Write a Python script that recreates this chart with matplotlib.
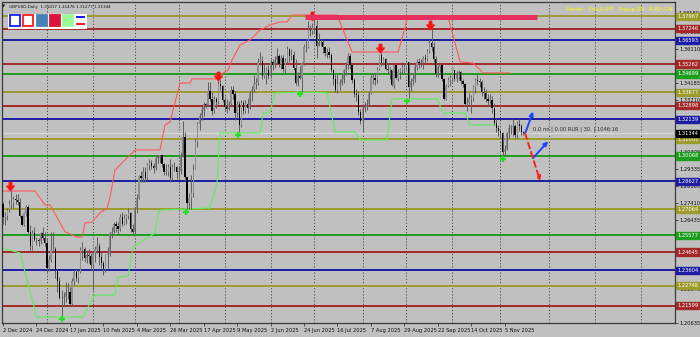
import matplotlib
matplotlib.use("Agg")
import matplotlib.pyplot as plt
from matplotlib.path import Path
from matplotlib.patches import Rectangle

_BG = "#c0c0c0"
_FRAME = "#3a3a3a"
_WICK = "#5e5e5e"
_BULL = "#8e8e8e"
_BEAR = "#000000"
_OLIVE, _DRED, _NAVY, _GREEN = "#9c9c2c", "#a42a2a", "#1c1ca4", "#1e9e1e"

TITLE = "GBPUSD,Daily  1.31417 1.31476 1.31277 1.31344"
ALERT = "Alerter:  Email OFF   Popup ON   PUSH ON"
INFO = "0.0 nn | 0.00 RUR | 30. | 1046:16"

# daily bars, 2 Dec 2024 .. 18 Nov 2025 (open of each bar = previous close)
first_open = 1.2735
closes = [
    1.2660, 1.2667, 1.2701, 1.2738, 1.2742, 1.2766, 1.2761, 1.2749, 1.2669, 1.2617,
    1.2683, 1.2717, 1.2577, 1.2497, 1.2574, 1.2532, 1.2531, 1.2526, 1.2571, 1.2545,
    1.2516, 1.2374, 1.2420, 1.2478, 1.2480, 1.2357, 1.2300, 1.2206, 1.2203, 1.2210,
    1.2238, 1.2237, 1.2170, 1.2302, 1.2353, 1.2318, 1.2351, 1.2478, 1.2480, 1.2431,
    1.2447, 1.2440, 1.2392, 1.2457, 1.2479, 1.2496, 1.2435, 1.2404, 1.2367, 1.2448,
    1.2456, 1.2571, 1.2580, 1.2620, 1.2611, 1.2595, 1.2665, 1.2625, 1.2655, 1.2666,
    1.2685, 1.2595, 1.2576, 1.2706, 1.2772, 1.2893, 1.2885, 1.2918, 1.2880, 1.2956,
    1.2967, 1.2953, 1.2939, 1.2997, 1.2998, 1.3012, 1.2960, 1.2918, 1.2918, 1.2946,
    1.2884, 1.2945, 1.2942, 1.2918, 1.2920, 1.3012, 1.3115, 1.2890, 1.2740, 1.2768,
    1.2800, 1.2930, 1.3085, 1.3190, 1.3235, 1.3265, 1.3300, 1.3295, 1.3375, 1.3330,
    1.3260, 1.3330, 1.3310, 1.3415, 1.3400, 1.3325, 1.3285, 1.3270, 1.3300, 1.3380,
    1.3355, 1.3250, 1.3300, 1.3180, 1.3305, 1.3260, 1.3300, 1.3280, 1.3360, 1.3385,
    1.3415, 1.3420, 1.3540, 1.3545, 1.3460, 1.3475, 1.3495, 1.3460, 1.3540, 1.3520,
    1.3550, 1.3570, 1.3525, 1.3560, 1.3500, 1.3540, 1.3610, 1.3570, 1.3575, 1.3505,
    1.3420, 1.3460, 1.3450, 1.3530, 1.3620, 1.3625, 1.3720, 1.3715, 1.3730, 1.3740,
    1.3630, 1.3650, 1.3650, 1.3620, 1.3590, 1.3595, 1.3575, 1.3495, 1.3440, 1.3380,
    1.3415, 1.3420, 1.3440, 1.3490, 1.3525, 1.3570, 1.3520, 1.3435, 1.3355, 1.3350,
    1.3255, 1.3205, 1.3275, 1.3285, 1.3300, 1.3360, 1.3450, 1.3450, 1.3435, 1.3500,
    1.3575, 1.3530, 1.3555, 1.3500, 1.3490, 1.3490, 1.3410, 1.3520, 1.3450, 1.3480,
    1.3490, 1.3505, 1.3505, 1.3540, 1.3395, 1.3430, 1.3440, 1.3510, 1.3535, 1.3530,
    1.3530, 1.3560, 1.3555, 1.3600, 1.3645, 1.3625, 1.3555, 1.3470, 1.3510, 1.3520,
    1.3440, 1.3330, 1.3400, 1.3435, 1.3445, 1.3490, 1.3440, 1.3465, 1.3480, 1.3430,
    1.3415, 1.3300, 1.3305, 1.3330, 1.3335, 1.3395, 1.3435, 1.3430, 1.3425, 1.3370,
    1.3360, 1.3330, 1.3315, 1.3325, 1.3275, 1.3195, 1.3165, 1.3150, 1.3135, 1.3030,
    1.3045, 1.3135, 1.3165, 1.3170, 1.3175, 1.3125, 1.3190, 1.3175, 1.3142, 1.3134,
]
highs = [
    1.2749, 1.2690, 1.2715, 1.2760, 1.2811, 1.2780, 1.2790, 1.2790, 1.2770, 1.2675,
    1.2690, 1.2730, 1.2730, 1.2615, 1.2590, 1.2605, 1.2550, 1.2545, 1.2580, 1.2605,
    1.2580, 1.2545, 1.2445, 1.2575, 1.2575, 1.2490, 1.2365, 1.2325, 1.2250, 1.2240,
    1.2295, 1.2290, 1.2265, 1.2320, 1.2370, 1.2370, 1.2365, 1.2490, 1.2520, 1.2490,
    1.2470, 1.2480, 1.2460, 1.2460, 1.2500, 1.2550, 1.2515, 1.2470, 1.2415, 1.2455,
    1.2490, 1.2580, 1.2605, 1.2635, 1.2640, 1.2635, 1.2680, 1.2690, 1.2680, 1.2680,
    1.2715, 1.2690, 1.2620, 1.2720, 1.2790, 1.2900, 1.2920, 1.2945, 1.2945, 1.2965,
    1.2990, 1.2985, 1.2965, 1.3005, 1.3015, 1.3015, 1.3015, 1.2970, 1.2960, 1.2960,
    1.2990, 1.2960, 1.2975, 1.2950, 1.2950, 1.3030, 1.3205, 1.3145, 1.2880, 1.2800,
    1.2900, 1.2960, 1.3100, 1.3200, 1.3250, 1.3290, 1.3310, 1.3305, 1.3425, 1.3425,
    1.3370, 1.3345, 1.3340, 1.3445, 1.3435, 1.3405, 1.3340, 1.3330, 1.3320, 1.3400,
    1.3400, 1.3375, 1.3315, 1.3320, 1.3325, 1.3325, 1.3325, 1.3335, 1.3375, 1.3400,
    1.3465, 1.3445, 1.3560, 1.3595, 1.3570, 1.3525, 1.3510, 1.3520, 1.3555, 1.3555,
    1.3570, 1.3615, 1.3580, 1.3575, 1.3575, 1.3560, 1.3630, 1.3615, 1.3610, 1.3600,
    1.3555, 1.3480, 1.3515, 1.3540, 1.3640, 1.3665, 1.3770, 1.3745, 1.3760, 1.3789,
    1.3775, 1.3700, 1.3670, 1.3660, 1.3630, 1.3615, 1.3620, 1.3590, 1.3500, 1.3470,
    1.3465, 1.3440, 1.3470, 1.3500, 1.3535, 1.3590, 1.3590, 1.3530, 1.3450, 1.3385,
    1.3375, 1.3270, 1.3290, 1.3310, 1.3330, 1.3375, 1.3470, 1.3470, 1.3475, 1.3510,
    1.3585, 1.3595, 1.3565, 1.3560, 1.3530, 1.3510, 1.3495, 1.3530, 1.3525, 1.3500,
    1.3505, 1.3535, 1.3530, 1.3550, 1.3540, 1.3445, 1.3470, 1.3530, 1.3555, 1.3560,
    1.3555, 1.3570, 1.3585, 1.3610, 1.3670, 1.3726, 1.3650, 1.3570, 1.3520, 1.3530,
    1.3525, 1.3450, 1.3415, 1.3455, 1.3465, 1.3500, 1.3495, 1.3485, 1.3495, 1.3485,
    1.3440, 1.3420, 1.3340, 1.3365, 1.3350, 1.3410, 1.3445, 1.3470, 1.3445, 1.3435,
    1.3395, 1.3385, 1.3355, 1.3355, 1.3345, 1.3305, 1.3215, 1.3180, 1.3160, 1.3140,
    1.3070, 1.3145, 1.3185, 1.3180, 1.3215, 1.3190, 1.3205, 1.3215, 1.3190, 1.3148,
]
lows = [
    1.2625, 1.2615, 1.2648, 1.2690, 1.2715, 1.2715, 1.2735, 1.2730, 1.2660, 1.2610,
    1.2610, 1.2670, 1.2570, 1.2475, 1.2475, 1.2525, 1.2505, 1.2500, 1.2510, 1.2530,
    1.2500, 1.2350, 1.2355, 1.2410, 1.2470, 1.2320, 1.2240, 1.2200, 1.2100, 1.2160,
    1.2180, 1.2200, 1.2160, 1.2160, 1.2280, 1.2300, 1.2290, 1.2345, 1.2420, 1.2410,
    1.2400, 1.2400, 1.2365, 1.2250, 1.2410, 1.2460, 1.2390, 1.2375, 1.2335, 1.2350,
    1.2375, 1.2440, 1.2545, 1.2570, 1.2575, 1.2560, 1.2585, 1.2610, 1.2615, 1.2620,
    1.2650, 1.2580, 1.2560, 1.2565, 1.2685, 1.2765, 1.2860, 1.2860, 1.2860, 1.2870,
    1.2930, 1.2935, 1.2910, 1.2930, 1.2970, 1.2965, 1.2945, 1.2900, 1.2900, 1.2895,
    1.2860, 1.2870, 1.2920, 1.2875, 1.2880, 1.2905, 1.3000, 1.2865, 1.2708, 1.2710,
    1.2710, 1.2775, 1.2945, 1.3060, 1.3155, 1.3210, 1.3230, 1.3275, 1.3290, 1.3320,
    1.3240, 1.3250, 1.3280, 1.3300, 1.3380, 1.3310, 1.3260, 1.3250, 1.3265, 1.3290,
    1.3330, 1.3210, 1.3225, 1.3140, 1.3170, 1.3245, 1.3250, 1.3250, 1.3270, 1.3320,
    1.3370, 1.3385, 1.3410, 1.3520, 1.3440, 1.3450, 1.3415, 1.3440, 1.3450, 1.3495,
    1.3505, 1.3530, 1.3510, 1.3500, 1.3480, 1.3470, 1.3525, 1.3535, 1.3550, 1.3490,
    1.3410, 1.3400, 1.3440, 1.3370, 1.3520, 1.3595, 1.3615, 1.3685, 1.3695, 1.3700,
    1.3560, 1.3630, 1.3630, 1.3590, 1.3570, 1.3560, 1.3560, 1.3480, 1.3410, 1.3370,
    1.3365, 1.3380, 1.3410, 1.3420, 1.3465, 1.3500, 1.3500, 1.3420, 1.3340, 1.3315,
    1.3240, 1.3190, 1.3142, 1.3255, 1.3265, 1.3290, 1.3355, 1.3415, 1.3410, 1.3420,
    1.3495, 1.3515, 1.3520, 1.3490, 1.3470, 1.3440, 1.3400, 1.3390, 1.3440, 1.3430,
    1.3440, 1.3470, 1.3475, 1.3500, 1.3335, 1.3375, 1.3410, 1.3425, 1.3495, 1.3505,
    1.3510, 1.3500, 1.3530, 1.3545, 1.3590, 1.3600, 1.3535, 1.3455, 1.3455, 1.3475,
    1.3430, 1.3325, 1.3325, 1.3395, 1.3400, 1.3425, 1.3430, 1.3425, 1.3435, 1.3415,
    1.3395, 1.3290, 1.3260, 1.3300, 1.3250, 1.3315, 1.3365, 1.3405, 1.3395, 1.3345,
    1.3330, 1.3310, 1.3290, 1.3300, 1.3250, 1.3180, 1.3140, 1.3120, 1.3110, 1.3010,
    1.3010, 1.3040, 1.3110, 1.3130, 1.3120, 1.3110, 1.3110, 1.3150, 1.3125, 1.3128,
]

date_labels = ["2 Dec 2024", "24 Dec 2024", "17 Jan 2025", "10 Feb 2025", "4 Mar 2025",
               "26 Mar 2025", "17 Apr 2025", "9 May 2025", "2 Jun 2025", "24 Jun 2025",
               "16 Jul 2025", "7 Aug 2025", "29 Aug 2025", "22 Sep 2025", "14 Oct 2025",
               "5 Nov 2025"]
date_bars = [0, 16, 32, 48, 64, 80, 96, 112, 128, 144, 160, 176, 192, 208, 224, 240]
month_start_bars = [21, 43, 63, 84, 106, 128, 149, 172, 193, 215, 238, 261, 283, 305]

price_min, price_max = 1.20635, 1.38765
bar_min, bar_max = -0.5, 321.5
scale_ticks = [1.20635, 1.21600, 1.22570, 1.23540, 1.24505, 1.25470, 1.26435, 1.27410,
               1.28385, 1.29335, 1.30305, 1.31275, 1.32240, 1.33210, 1.34185, 1.35145,
               1.36110, 1.37080]
scale_top_label = "1.38580"

level_prices = [1.37967, 1.37246, 1.36593, 1.35262, 1.34699, 1.33677, 1.32898, 1.32139,
                1.31005, 1.30068, 1.28627, 1.27064, 1.25577, 1.24645, 1.23604, 1.22748,
                1.21599]
level_colors = [_OLIVE, _DRED, _NAVY, _DRED, _GREEN, _OLIVE, _DRED, _NAVY,
                _OLIVE, _GREEN, _NAVY, _OLIVE, _GREEN, _DRED, _NAVY, _OLIVE, _DRED]
bid_price = 1.31344

# fractal-style markers
top_mark_bars = [3.5, 103, 148, 180.5, 204.5]
top_mark_prices = [1.2835, 1.3460, 1.3800, 1.3615, 1.3745]
bottom_mark_bars = [28, 87.5, 112.5, 142, 193.5, 239]
bottom_mark_prices = [1.2085, 1.2690, 1.3125, 1.3355, 1.3318, 1.2990]

# channel envelope (upper / lower) traced as (bar, price)
upper_bars = [-0.5, 15.3, 20.1, 22.5, 29.7, 35.4, 37.8, 39.2, 42.6, 46.4, 49.8, 51.2,
              53.6, 58.4, 63.2, 75.1, 77.5, 79.9, 84.7, 89.5, 90.4, 102.4, 103.8, 107.7,
              109.6, 113.4, 118.2, 123.0, 127.8, 132.5, 135.9, 138.3, 159.8, 167.0,
              189.0, 192.3, 193.3, 212.9, 218.7, 224.9, 229.7, 242.6]
upper_prices = [1.2809, 1.2809, 1.2730, 1.2730, 1.2578, 1.2549, 1.2549, 1.2628, 1.2634,
                1.2685, 1.2713, 1.2775, 1.2928, 1.2984, 1.3041, 1.3041, 1.3182, 1.3199,
                1.3419, 1.3419, 1.3442, 1.3442, 1.3464, 1.3492, 1.3549, 1.3634, 1.3662,
                1.3718, 1.3747, 1.3764, 1.3764, 1.3803, 1.3803, 1.3594, 1.3594, 1.3730,
                1.3792, 1.3792, 1.3538, 1.3532, 1.3476, 1.3476]
lower_bars = [-0.5, 8.1, 14.4, 15.8, 38.3, 40.7, 44.0, 53.6, 55.0, 59.8, 62.2, 72.7,
              74.2, 75.1, 99.0, 102.4, 103.8, 123.0, 124.4, 127.8, 130.1, 146.9, 155.0,
              158.9, 168.4, 171.0, 183.7, 186.1, 207.7, 210.5, 221.1, 223.4, 235.4]
lower_prices = [1.2487, 1.2459, 1.2177, 1.2097, 1.2097, 1.2154, 1.2222, 1.2222, 1.2323,
                1.2329, 1.2493, 1.2572, 1.2685, 1.2701, 1.2713, 1.2854, 1.3137, 1.3137,
                1.3250, 1.3255, 1.3363, 1.3368, 1.3363, 1.3142, 1.3142, 1.3097, 1.3097,
                1.3329, 1.3329, 1.3250, 1.3250, 1.3182, 1.3182]

# resistance band and projection arrows
band_start, band_end, band_price = 144.5, 255.5, 1.3790
blue_arrow_1 = [(249.8, 1.3134), (253.6, 1.3258)]
blue_arrow_2 = [(253.6, 1.2995), (260.8, 1.3090)]
red_arrow = [(249.8, 1.3134), (257.0, 1.2865)]
info_bar, info_price = 253.6, 1.3155

FS = 3.7  # small MT4-like fonts


def px(x, y):
    return x / 700.0, 1.0 - y / 337.0


fig = plt.figure(figsize=(7.0, 3.37), dpi=100)
fig.patch.set_facecolor(_BG)
ax = fig.add_axes([2 / 700, 14 / 337, 673 / 700, 321 / 337])
ax.set_facecolor(_BG)
ax.set_xlim(bar_min, bar_max)
ax.set_ylim(price_min, price_max)
for s in ax.spines.values():
    s.set_color(_FRAME)
    s.set_linewidth(0.9)

# month separators
for b in month_start_bars:
    ax.axvline(b, color="#4a4a4a", lw=0.7, ls=(0, (1.2, 2.0)), zorder=0.5)

# support / resistance levels
for p, c in zip(level_prices, level_colors):
    ax.axhline(p, color=c, lw=1.4, zorder=1)
ax.axhline(bid_price, color="#d6d6d6", lw=1.0, zorder=1)

# channel
ax.plot(upper_bars, upper_prices, color="#ff5a5a", lw=0.8, zorder=2)
ax.plot(lower_bars, lower_prices, color="#5cf05c", lw=0.8, zorder=2)

# candles
opens = [first_open] + closes[:-1]
xs = list(range(len(closes)))
ax.vlines(xs, lows, highs, color=_WICK, lw=0.7, zorder=3)
body_lo = [min(o, c) for o, c in zip(opens, closes)]
body_h = [max(abs(c - o), 0.00025) for o, c in zip(opens, closes)]
body_col = [_BULL if c >= o else _BEAR for o, c in zip(opens, closes)]
ax.bar(xs, body_h, bottom=body_lo, width=0.62, color=body_col, lw=0, zorder=3.5)

# markers
down_arrow = Path([(-0.3, 1.0), (0.3, 1.0), (0.3, 0.1), (0.9, 0.1), (0.0, -1.0),
                   (-0.9, 0.1), (-0.3, 0.1), (-0.3, 1.0)])
ax.plot(top_mark_bars, top_mark_prices, ls="none", marker=down_arrow, ms=6,
        color="#ff1010", zorder=4)
ax.plot(bottom_mark_bars, bottom_mark_prices, ls="none", marker="+", ms=5, mew=1.6,
        color="#20e020", zorder=4)

# resistance band
ax.plot([band_start, band_end], [band_price, band_price], color="#e8305e", lw=3.6,
        solid_capstyle="butt", zorder=5)

# projection arrows
for (x0, y0), (x1, y1) in (blue_arrow_1, blue_arrow_2):
    ax.annotate("", xy=(x1, y1), xytext=(x0, y0),
                arrowprops=dict(arrowstyle="-|>", color="#1e46ff", lw=1.4,
                                mutation_scale=6, shrinkA=0, shrinkB=0), zorder=6)
ax.annotate("", xy=red_arrow[1], xytext=red_arrow[0],
            arrowprops=dict(arrowstyle="-|>", color="#ff2020", lw=1.4, ls=(0, (3, 2)),
                            mutation_scale=6, shrinkA=0, shrinkB=0), zorder=6)
ax.text(info_bar, info_price, INFO, fontsize=FS, color="#2a2a2a", va="center",
        ha="left", zorder=6)

# price scale
ax.yaxis.tick_right()
ax.set_yticks(scale_ticks)
ax.set_yticklabels([f"{t:.5f}" for t in scale_ticks])
ax.tick_params(axis="y", length=2, width=0.6, color=_FRAME, pad=1.0,
               labelsize=FS, labelcolor="#101010")
ax.annotate(scale_top_label, xy=(1, price_max), xycoords=("axes fraction", "data"),
            xytext=(2.8, -8.5), textcoords="offset points", fontsize=FS,
            color="#101010", va="center", annotation_clip=False)
for p, c in zip(level_prices + [bid_price], level_colors + ["#000000"]):
    ax.annotate(f"{p:.5f}", xy=(1, p), xycoords=("axes fraction", "data"),
                xytext=(1.4, 0), textcoords="offset points", fontsize=FS,
                color="white", va="center", ha="left", annotation_clip=False,
                bbox=dict(boxstyle="square,pad=0.2", fc=c, ec=c), zorder=7)

# time scale
ax.set_xticks(date_bars)
ax.set_xticklabels(date_labels, ha="left")
ax.tick_params(axis="x", length=2.5, width=0.6, color=_FRAME, pad=1.2,
               labelsize=FS, labelcolor="#101010")

# header text and buttons
fig.text(*px(2, 7), "\u25bc", fontsize=3.0, color="#202020", va="center")
fig.text(*px(9, 7), TITLE, fontsize=3.0, color="#151515", va="center")
fig.text(*px(672, 9), ALERT, fontsize=3.7, color="#ffff00", va="center", ha="right")

panel = Rectangle(px(8, 29), 79 / 700, 15 / 337, transform=fig.transFigure,
                  fc="white", ec="none", zorder=10)
fig.patches.append(panel)
button_specs = [(10, "none", "#1a1aff"), (23, "none", "#ff1a1a"),
                (37, "#4682b4", "#4682b4"), (50, "#dc143c", "#dc143c"),
                (63, "#98fb98", "#98fb98")]
for bx, fc, ec in button_specs:
    fig.patches.append(Rectangle(px(bx, 26), 10 / 700, 11 / 337, transform=fig.transFigure,
                                 fc=fc, ec=ec, lw=1.3, zorder=11))
fig.patches.append(Rectangle(px(76, 18), 9 / 700, 2 / 337, transform=fig.transFigure,
                             fc="#1a1aff", ec="none", zorder=11))
fig.patches.append(Rectangle(px(76, 25), 9 / 700, 2 / 337, transform=fig.transFigure,
                             fc="#ff1a1a", ec="none", zorder=11))

fig.savefig("out.png", dpi=100, facecolor=fig.get_facecolor())
